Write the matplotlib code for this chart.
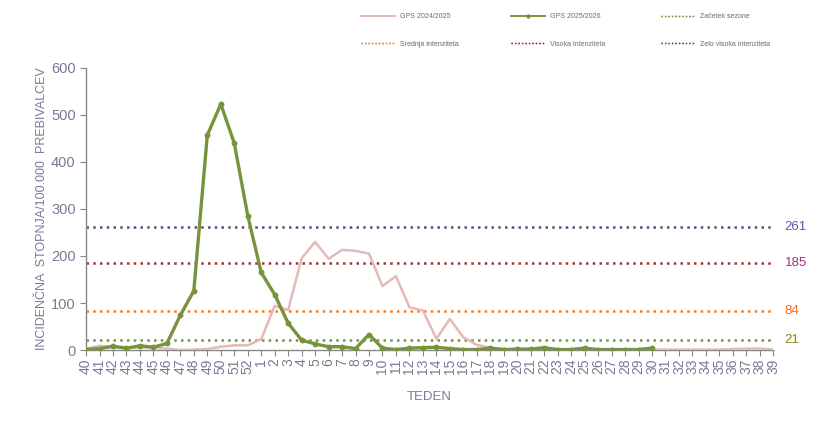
import matplotlib
matplotlib.use("Agg")
import matplotlib.pyplot as plt
from matplotlib.lines import Line2D

plt.rcParams["font.family"] = ["Liberation Sans", "DejaVu Sans"]

# tedni sezone
weeks = [str(w) for w in list(range(40, 53)) + list(range(1, 40))]

# GPS 2024/2025
gps_prev = [3, 9, 6, 4, 6, 5, 3, 0, 1, 2, 7, 10, 10,
            23, 94, 85, 195, 230, 194, 213, 211, 205, 136, 157, 91, 84,
            24, 66, 27, 11, 5, 2, 1, 1, 1, 1, 1, 1, 1, 1, 1, 1,
            1, 1, 1, 1, 1, 1, 2, 3, 3, 1]
# GPS 2025/2026 (do tedna 30)
gps_curr = [1, 3, 8, 4, 9, 6, 14, 74, 126, 457, 523, 440, 286,
            165, 118, 57, 21, 13, 7, 7, 3, 33, 4, 1, 4, 5,
            6, 3, 1, 1, 4, 1, 2, 2, 5, 1, 1, 4, 1, 1, 1, 1, 4]

# pragovi
thr_names = ["Začetek sezone", "Srednja intenziteta", "Visoka intenziteta", "Zelo visoka intenziteta"]
thr_values = [21, 84, 185, 261]
thr_colors = ["#77933c", "#fa7a12", "#953735", "#604a7b"]
thr_text_colors = ["#8c8c00", "#ff6a13", "#a0307f", "#5a5aa0"]

txt_col = "#7a7a96"

fig = plt.figure(figsize=(8.32, 4.34), dpi=100)
ax = fig.add_axes([0.1034, 0.1935, 0.826, 0.65])

x = list(range(len(weeks)))
ax.plot(x, gps_prev, color="#e6b9b8", lw=1.8, zorder=3)
ax.plot(x[:len(gps_curr)], gps_curr, color="#77933c", lw=2.4, marker="o",
        markersize=3.2, zorder=4)

for v, c, tc in zip(thr_values, thr_colors, thr_text_colors):
    ax.plot([x[0], x[-1]], [v, v], color=c, lw=1.8, linestyle=(0, (1, 1.7)), zorder=2)
    ax.text(x[-1] + 0.85, v, str(v), color=tc, fontsize=9.5, va="center", ha="left")

ax.set_xlim(x[0], x[-1])
ax.set_ylim(0, 600)
ax.set_yticks(range(0, 601, 100))
ax.set_xticks(x)
ax.set_xticklabels(weeks, rotation=90, fontsize=10, color=txt_col)
ax.tick_params(axis="y", labelsize=10.5, labelcolor=txt_col, color="#888888", length=4)
ax.tick_params(axis="x", color="#888888", length=4, pad=2)

for s in ["top", "right"]:
    ax.spines[s].set_visible(False)
for s in ["left", "bottom"]:
    ax.spines[s].set_color("#888888")
    ax.spines[s].set_linewidth(1.0)

ax.set_ylabel("INCIDENČNA  STOPNJA/100.000  PREBIVALCEV", fontsize=9, color=txt_col, labelpad=2)
ax.set_xlabel("TEDEN", fontsize=9.5, color=txt_col, labelpad=12)

# legenda v treh stolpcih
handles = [
    Line2D([], [], color="#e6b9b8", lw=1.2),
    Line2D([], [], color="#77933c", lw=1.2, marker="o", markersize=1.8),
    Line2D([], [], color=thr_colors[0], lw=1, linestyle=(0, (1, 1.5))),
    Line2D([], [], color=thr_colors[1], lw=1, linestyle=(0, (1, 1.5))),
    Line2D([], [], color=thr_colors[2], lw=1, linestyle=(0, (1, 1.5))),
    Line2D([], [], color=thr_colors[3], lw=1, linestyle=(0, (1, 1.5))),
]
labels = ["GPS 2024/2025", "GPS 2025/2026"] + thr_names
cols = [(0, 3), (1, 4), (2, 5)]
col_x = [358, 508, 658]
for (i, j), cx in zip(cols, col_x):
    leg = fig.legend([handles[i], handles[j]], [labels[i], labels[j]],
                     loc="upper left", bbox_to_anchor=(cx / 832, 1 - 10 / 434),
                     frameon=False, fontsize=5, handlelength=4.8, handletextpad=0.8,
                     labelspacing=2.9, borderpad=0, labelcolor="#999999")
    fig.add_artist(leg)

fig.savefig("out.png", dpi=100)
